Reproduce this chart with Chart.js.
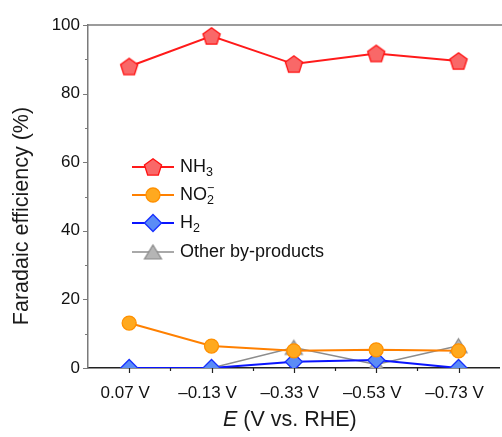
<!DOCTYPE html>
<html>
<head>
<meta charset="utf-8">
<script src="https://cdn.jsdelivr.net/npm/chart.js@4.4.0/dist/chart.umd.min.js"></script>
<style>
  html, body { margin: 0; padding: 0; background: #fff; overflow: hidden; }
  #wrap { width: 510px; height: 437px; }
</style>
</head>
<body>
<div id="wrap"><canvas id="fe-chart" width="510" height="437"></canvas></div>
<script>
// Faradaic efficiency of each product vs. applied potential
const potentials = ['0.07 V', '\u20130.13 V', '\u20130.33 V', '\u20130.53 V', '\u20130.73 V'];
const nh3 = [87.9, 96.8, 88.6, 91.7, 89.5];
const no2 = [13.1, 6.4, 5.0, 5.3, 5.0];
const h2 = [0, 0, 1.8, 2.3, 0];
const others = [0, 0, 6.0, 1.0, 6.5];
const yMajor = [0, 20, 40, 60, 80, 100];
const yMinor = [10, 30, 50, 70, 90];

const FONT = "'Liberation Sans', Arial, sans-serif";
const TITLE_SIZE = 21.5;

// marker sprites for shapes Chart.js doesn't have
function makePentagon(r, fill, stroke) {
    const c = document.createElement('canvas');
    const s = Math.ceil(r * 2 + 4);
    c.width = s; c.height = s;
    const g = c.getContext('2d');
    g.beginPath();
    for (let i = 0; i < 5; i++) {
        const a = -Math.PI / 2 + i * 2 * Math.PI / 5;
        const px = s / 2 + r * Math.cos(a), py = s / 2 + 0.8 + r * Math.sin(a);
        i ? g.lineTo(px, py) : g.moveTo(px, py);
    }
    g.closePath();
    g.fillStyle = fill; g.fill();
    g.lineWidth = 1.3; g.strokeStyle = stroke; g.stroke();
    return c;
}

function makeTriangle(w, h, fill, stroke) {
    const c = document.createElement('canvas');
    c.width = w + 4; c.height = h + 4;
    const g = c.getContext('2d');
    g.beginPath();
    g.moveTo(c.width / 2, 2);
    g.lineTo(c.width / 2 + w / 2, 2 + h);
    g.lineTo(c.width / 2 - w / 2, 2 + h);
    g.closePath();
    g.fillStyle = fill; g.fill();
    g.lineWidth = 1.2; g.strokeStyle = stroke; g.stroke();
    return c;
}

const pentagon = makePentagon(9, '#f96868', '#ff1010');
const triangle = makeTriangle(17, 14, '#b5b5b5', '#8a8a8a');

const series = [
    { key: 'nh3', data: nh3, line: '#ff1a1a', width: 2, style: pentagon, radius: 9, fill: '#f96868', edge: '#ff1010' },
    { key: 'no2', data: no2, line: '#ff8000', width: 2, style: 'circle', radius: 7, fill: '#ffa91f', edge: '#ff9000' },
    { key: 'h2', data: h2, line: '#0a14ff', width: 2, style: 'rectRot', radius: 8.5, fill: '#5b8cf6', edge: '#1730ff' },
    { key: 'other', data: others, line: '#8c8c8c', width: 1.5, style: triangle, radius: 8, fill: '#b5b5b5', edge: '#8a8a8a' }
];

// outer frame pieces, tick marks (major + minor) and axis titles
const framePlugin = {
    id: 'frame',
    afterDraw(chart) {
        const { ctx, chartArea: a, scales: { x, y } } = chart;
        ctx.save();
        ctx.strokeStyle = '#7a7a7a';
        ctx.lineWidth = 1.5;
        ctx.beginPath();
        ctx.moveTo(a.left - 0.75, a.top);
        ctx.lineTo(chart.width, a.top);
        ctx.stroke();

        ctx.lineWidth = 1.2;
        ctx.beginPath();
        yMajor.forEach(v => { const p = Math.round(y.getPixelForValue(v)) + 0.5; ctx.moveTo(a.left, p); ctx.lineTo(a.left - 5, p); });
        yMinor.forEach(v => { const p = Math.round(y.getPixelForValue(v)) + 0.5; ctx.moveTo(a.left, p); ctx.lineTo(a.left - 3, p); });
        ctx.stroke();

        ctx.strokeStyle = '#222';
        ctx.beginPath();
        potentials.forEach((_, i) => {
            const p = Math.round(x.getPixelForValue(i)) + 0.5;
            ctx.moveTo(p, a.bottom); ctx.lineTo(p, a.bottom + 5);
            if (i < potentials.length - 1) {
                const m = Math.round(x.getPixelForValue(i + 0.5)) + 0.5;
                ctx.moveTo(m, a.bottom); ctx.lineTo(m, a.bottom + 3);
            }
        });
        ctx.stroke();

        ctx.fillStyle = '#1a1a1a';
        ctx.textBaseline = 'middle';

        // y title, rotated
        ctx.save();
        ctx.translate(22, 216);
        ctx.rotate(-Math.PI / 2);
        ctx.textAlign = 'center';
        ctx.font = TITLE_SIZE + 'px ' + FONT;
        ctx.fillText('Faradaic efficiency (%)', 0, 0);
        ctx.restore();

        // x title with italic E
        const ty = 420;
        ctx.textAlign = 'left';
        ctx.font = 'italic ' + TITLE_SIZE + 'px ' + FONT;
        const wE = ctx.measureText('E').width;
        ctx.font = TITLE_SIZE + 'px ' + FONT;
        const rest = ' (V vs. RHE)';
        const wR = ctx.measureText(rest).width;
        const cx = (a.left + a.right) / 2 - 4;
        const tx = cx - (wE + wR) / 2;
        ctx.font = 'italic ' + TITLE_SIZE + 'px ' + FONT;
        ctx.fillText('E', tx, ty);
        ctx.font = TITLE_SIZE + 'px ' + FONT;
        ctx.fillText(rest, tx + wE, ty);
        ctx.restore();
    }
};

// legend drawn inside the plot: line, marker, label with sub/superscripts
const legendPlugin = {
    id: 'innerLegend',
    afterDraw(chart) {
        const ctx = chart.ctx;
        const rows = [167, 195, 223, 252];
        const x0 = 132, x1 = 174, mx = 153, tx = 180;
        ctx.save();
        series.forEach((s, i) => {
            const yy = rows[i];
            ctx.strokeStyle = s.line;
            ctx.lineWidth = s.width;
            ctx.beginPath();
            ctx.moveTo(x0, yy); ctx.lineTo(x1, yy);
            ctx.stroke();
            ctx.fillStyle = s.fill;
            ctx.strokeStyle = s.edge;
            ctx.lineWidth = 1.3;
            Chart.helpers.drawPoint(ctx, { pointStyle: s.style, radius: s.radius, rotation: 0, borderWidth: 1.3 }, mx, yy);
        });

        ctx.fillStyle = '#111';
        ctx.textBaseline = 'middle';
        ctx.textAlign = 'left';
        const big = '18px ' + FONT, small = '12.5px ' + FONT;
        // NH3
        ctx.font = big;
        ctx.fillText('NH', tx, rows[0]);
        let w = ctx.measureText('NH').width;
        ctx.font = small;
        ctx.fillText('3', tx + w, rows[0] + 6);
        // NO2-
        ctx.font = big;
        ctx.fillText('NO', tx, rows[1]);
        w = ctx.measureText('NO').width;
        ctx.font = small;
        ctx.fillText('2', tx + w, rows[1] + 6);
        ctx.fillText('\u2212', tx + w, rows[1] - 6);
        // H2
        ctx.font = big;
        ctx.fillText('H', tx, rows[2]);
        w = ctx.measureText('H').width;
        ctx.font = small;
        ctx.fillText('2', tx + w, rows[2] + 6);
        ctx.font = big;
        ctx.fillText('Other by-products', tx, rows[3]);
        ctx.restore();
    }
};

new Chart(document.getElementById('fe-chart'), {
    type: 'line',
    data: {
        labels: potentials,
        datasets: series.map(s => ({
            label: s.key,
            data: s.data,
            borderColor: s.line,
            borderWidth: s.width,
            pointStyle: s.style,
            pointRadius: s.radius,
            pointBackgroundColor: s.fill,
            pointBorderColor: s.edge,
            pointBorderWidth: 1.3,
            tension: 0,
            clip: { left: false, top: false, right: false, bottom: 0 }
        }))
    },
    options: {
        responsive: false,
        animation: false,
        events: [],
        layout: { padding: { top: 25, right: 5, left: 0, bottom: 0 } },
        plugins: { legend: { display: false }, tooltip: { enabled: false } },
        scales: {
            x: {
                offset: true,
                grid: { display: false, drawTicks: false },
                border: { color: '#222', width: 1.5 },
                ticks: { color: '#111', font: { family: FONT, size: 17 }, padding: 15, labelOffset: -4, maxRotation: 0, autoSkip: false },
                afterFit(s) { s.height = 69; }
            },
            y: {
                min: 0,
                max: 100,
                grid: { display: false, drawTicks: false },
                border: { color: '#7a7a7a', width: 1.5 },
                ticks: { stepSize: 20, color: '#111', font: { family: FONT, size: 17 }, padding: 8 },
                afterFit(s) { s.width = 88; }
            }
        }
    },
    plugins: [framePlugin, legendPlugin]
});
</script>
</body>
</html>
